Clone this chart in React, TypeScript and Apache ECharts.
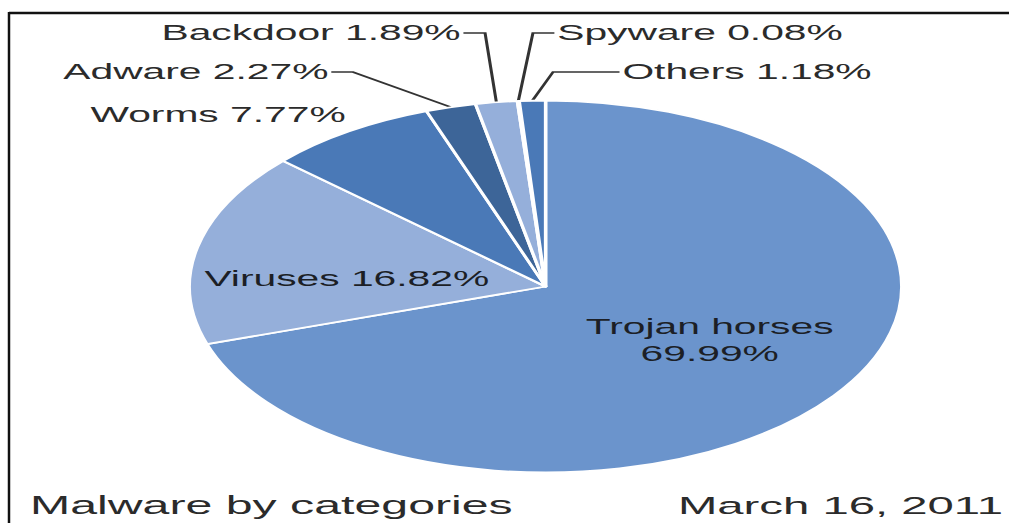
import React, { useEffect, useRef } from "react";
import * as echarts from "echarts";

// ---- data ----
const categories = ["Trojan horses", "Viruses", "Worms", "Adware", "Backdoor", "Spyware", "Others"];
const shares = [69.99, 16.82, 7.77, 2.27, 1.89, 0.08, 1.18];
const sliceColors = ["#6b94cc", "#95afda", "#4a79b7", "#3d6598", "#95afda", "#b7c9e6", "#4a79b7"];
const chartTitle = "Malware by categories";
const chartDate = "March 16, 2011";

// ---- layout (the reference is stretched horizontally) ----
const WIDTH = 1010;
const HEIGHT = 523;
const STRETCH = 1.915;
const INNER_W = WIDTH / STRETCH;
const PIE_CX = 284.9;
const PIE_CY = 286.5;
const PIE_R = 186;
const LABEL_FONT = 21.3;
const TITLE_FONT = 25.2;
const DATE_FONT = 24.7;
const FONT = '"Liberation Sans", Arial, sans-serif';

type OutsideSpec = { side: "left" | "right"; textX: number; bendX?: number; y: number };
const outsideLabels: Record<string, OutsideSpec> = {
  Worms: { side: "left", textX: 180.5, y: 115 },
  Adware: { side: "left", textX: 171.5, bendX: 184.3, y: 72 },
  Backdoor: { side: "left", textX: 240.5, bendX: 253.3, y: 33 },
  Spyware: { side: "right", textX: 291, bendX: 278.3, y: 33 },
  Others: { side: "right", textX: 325, bendX: 288.8, y: 72 },
};
const insideNudge: Record<string, [number, number]> = {
  "Trojan horses": [8, -3],
  Viruses: [-10, 13],
};

export default function App() {
  const ref = useRef<HTMLDivElement>(null);

  useEffect(() => {
    if (!ref.current) return;
    const chart = echarts.init(ref.current, undefined, { renderer: "svg" });

    const total = shares.reduce((a, b) => a + b, 0);
    const edgePoint = (idx: number): number[] => {
      let before = 0;
      for (let i = 0; i < idx; i++) before += shares[i];
      const mid = before + shares[idx] / 2;
      const ang = (90 - (mid / total) * 360) * (Math.PI / 180);
      return [PIE_CX + PIE_R * Math.cos(ang), PIE_CY - PIE_R * Math.sin(ang)];
    };

    const data = categories.map((name, i) => {
      const inside = !outsideLabels[name];
      return {
        name,
        value: shares[i],
        itemStyle: { color: sliceColors[i] },
        label: inside
          ? { position: "inside", color: "#1c1f26", lineHeight: 27, align: "center" }
          : { position: "outside", color: "#2b2b2b" },
        labelLine: { show: !!(outsideLabels[name] && outsideLabels[name].bendX != null) },
      };
    });

    chart.setOption({
      animation: false,
      graphic: [
        {
          type: "line",
          shape: { x1: 4.7, y1: 13, x2: INNER_W - 0.5, y2: 13 },
          style: { stroke: "#111", lineWidth: 2.4 },
          silent: true,
        },
        {
          type: "line",
          shape: { x1: 4.7, y1: 12, x2: 4.7, y2: HEIGHT },
          style: { stroke: "#111", lineWidth: 1.3 },
          silent: true,
        },
        {
          type: "text",
          style: {
            text: chartTitle,
            x: 15.7,
            y: 505,
            fill: "#2b2b2b",
            fontSize: TITLE_FONT,
            fontFamily: FONT,
            verticalAlign: "middle",
            align: "left",
          },
          silent: true,
        },
        {
          type: "text",
          style: {
            text: chartDate,
            x: 354,
            y: 505,
            fill: "#2b2b2b",
            fontSize: DATE_FONT,
            fontFamily: FONT,
            verticalAlign: "middle",
            align: "left",
          },
          silent: true,
        },
      ],
      series: [
        {
          type: "pie",
          center: [PIE_CX, PIE_CY],
          radius: PIE_R,
          startAngle: 90,
          clockwise: true,
          avoidLabelOverlap: false,
          minShowLabelAngle: 0,
          emphasis: { disabled: true },
          itemStyle: { borderColor: "#ffffff", borderWidth: 1.8 },
          label: {
            show: true,
            fontSize: LABEL_FONT,
            fontFamily: FONT,
            formatter: (p: any) => {
              const v = shares[p.dataIndex].toFixed(2) + "%";
              return p.name === "Trojan horses" ? `${p.name}\n${v}` : `${p.name} ${v}`;
            },
          },
          labelLine: {
            show: true,
            length: 10,
            length2: 10,
            lineStyle: { color: "#333333", width: 1.6 },
          },
          labelLayout: (params: any) => {
            const name = categories[params.dataIndex];
            const spec = outsideLabels[name];
            if (!spec) {
              const n = insideNudge[name];
              return n ? { dx: n[0], dy: n[1] } : {};
            }
            const res: any = {
              x: spec.textX,
              y: spec.y,
              align: spec.side === "left" ? "right" : "left",
              verticalAlign: "middle",
            };
            if (spec.bendX != null) {
              const pts = params.labelLinePoints;
              const edge = pts && pts.length ? pts[0] : edgePoint(params.dataIndex);
              const endX = spec.side === "left" ? spec.textX + 1.5 : spec.textX - 1.5;
              res.labelLinePoints = [edge, [spec.bendX, spec.y], [endX, spec.y]];
            }
            return res;
          },
          data,
        },
      ],
    });

    return () => chart.dispose();
  }, []);

  return (
    <div
      style={{
        position: "fixed",
        left: 0,
        top: 0,
        width: WIDTH,
        height: HEIGHT,
        overflow: "hidden",
        background: "#fff",
      }}
    >
      <div
        ref={ref}
        style={{
          width: INNER_W,
          height: HEIGHT,
          transform: `scaleX(${STRETCH})`,
          transformOrigin: "0 0",
        }}
      />
    </div>
  );
}
